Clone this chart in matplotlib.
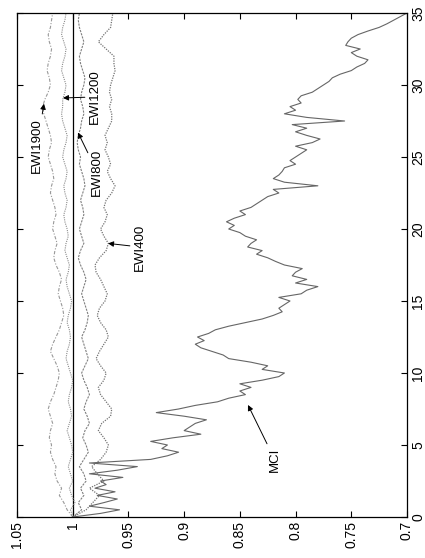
import numpy as np
import matplotlib
matplotlib.use("Agg")
import matplotlib.pyplot as plt

plt.rcParams['font.family'] = ['Liberation Sans', 'DejaVu Sans']

# Datos (tiempo 0..35, valores 0.7..1.05)
mci = [1.0, 0.975, 0.958, 0.985, 0.972, 0.96, 0.978, 0.962, 0.98, 0.97,
       0.975, 0.955, 0.985, 0.96, 0.942, 0.985, 0.93, 0.915, 0.905, 0.92,
       0.915, 0.93, 0.91, 0.885, 0.9, 0.895, 0.89, 0.88, 0.9, 0.925,
       0.905, 0.89, 0.87, 0.86, 0.845, 0.85, 0.84, 0.85, 0.83, 0.815,
       0.81, 0.83, 0.825, 0.84, 0.86, 0.865, 0.875, 0.885, 0.89, 0.882,
       0.888, 0.878, 0.872, 0.86, 0.845, 0.83, 0.82, 0.812, 0.815, 0.81,
       0.805, 0.815, 0.795, 0.79, 0.78, 0.8, 0.79, 0.803, 0.8, 0.794,
       0.81, 0.818, 0.825, 0.835, 0.83, 0.843, 0.84, 0.835, 0.845, 0.85,
       0.86, 0.855, 0.862, 0.855, 0.845, 0.85, 0.84, 0.835, 0.83, 0.825,
       0.815, 0.82, 0.78, 0.81, 0.82, 0.815, 0.812, 0.81, 0.8, 0.805,
       0.8, 0.795, 0.79, 0.8, 0.785, 0.778, 0.79, 0.8, 0.79, 0.803,
       0.756, 0.79, 0.81, 0.8, 0.805, 0.795, 0.798, 0.795, 0.785, 0.78,
       0.775, 0.77, 0.767, 0.76, 0.75, 0.745, 0.738, 0.735, 0.745, 0.75,
       0.742, 0.755, 0.753, 0.75, 0.744, 0.735, 0.725, 0.718, 0.712, 0.706,
       0.70]

ewi400 = [1.0, 0.988, 0.982, 0.976, 0.985, 0.972, 0.978, 0.983, 0.975, 0.97,
          0.968, 0.972, 0.977, 0.974, 0.966, 0.965, 0.97, 0.975, 0.977, 0.972,
          0.97, 0.975, 0.979, 0.976, 0.972, 0.968, 0.97, 0.975, 0.978, 0.976,
          0.971, 0.969, 0.972, 0.975, 0.979, 0.98, 0.976, 0.97, 0.968, 0.972,
          0.975, 0.971, 0.969, 0.972, 0.97, 0.965, 0.962, 0.966, 0.969, 0.966,
          0.968, 0.971, 0.969, 0.971, 0.968, 0.965, 0.965, 0.967, 0.965, 0.967,
          0.966, 0.964, 0.962, 0.963, 0.963, 0.97, 0.977, 0.972, 0.966, 0.965,
          0.964]

ewi800 = [1.0, 0.992, 0.995, 0.99, 0.993, 0.988, 0.99, 0.994, 0.99, 0.986,
          0.988, 0.991, 0.989, 0.985, 0.987, 0.99, 0.988, 0.985, 0.987, 0.99,
          0.992, 0.989, 0.986, 0.988, 0.99, 0.992, 0.989, 0.987, 0.986, 0.988,
          0.99, 0.992, 0.99, 0.988, 0.99, 0.993, 0.995, 0.993, 0.99, 0.992,
          0.994, 0.992, 0.99, 0.991, 0.993, 0.991, 0.989, 0.99, 0.992, 0.994,
          0.993, 0.995, 0.996, 0.995, 0.993, 0.992, 0.99, 0.991, 0.993, 0.992,
          0.99, 0.989, 0.991, 0.993, 0.994, 0.992, 0.99, 0.992, 0.994, 0.995,
          0.994]

ewi1200 = [1.0, 1.002, 0.998, 1.001, 1.003, 1.0, 1.002, 1.004, 1.002, 1.0,
           1.001, 1.003, 1.005, 1.003, 1.001, 1.002, 1.004, 1.003, 1.001, 1.0,
           1.002, 1.004, 1.006, 1.005, 1.003, 1.002, 1.003, 1.005, 1.004, 1.002,
           1.001, 1.003, 1.005, 1.006, 1.004, 1.003, 1.005, 1.007, 1.006, 1.004,
           1.005, 1.007, 1.008, 1.006, 1.005, 1.007, 1.008, 1.006, 1.005, 1.007,
           1.009, 1.008, 1.006, 1.005, 1.007, 1.009, 1.01, 1.009, 1.009, 1.007,
           1.006, 1.008, 1.01, 1.009, 1.007, 1.006, 1.008, 1.01, 1.009, 1.007,
           1.006]

ewi1900 = [1.0, 1.005, 1.008, 1.012, 1.01, 1.014, 1.016, 1.015, 1.018, 1.02,
           1.019, 1.021, 1.02, 1.018, 1.02, 1.022, 1.02, 1.017, 1.015, 1.013,
           1.012, 1.014, 1.017, 1.02, 1.018, 1.015, 1.012, 1.01, 1.008, 1.009,
           1.011, 1.013, 1.012, 1.01, 1.012, 1.015, 1.017, 1.016, 1.014, 1.016,
           1.018, 1.017, 1.015, 1.016, 1.018, 1.02, 1.019, 1.017, 1.018, 1.02,
           1.022, 1.021, 1.019, 1.02, 1.022, 1.024, 1.026, 1.027, 1.025, 1.022,
           1.02, 1.021, 1.023, 1.022, 1.02, 1.019, 1.021, 1.022, 1.02, 1.019,
           1.018]

t_mci = np.linspace(0, 35, len(mci))
t_ewi = np.linspace(0, 35, len(ewi400))

value_ticks = [0.7, 0.75, 0.8, 0.85, 0.9, 0.95, 1.0, 1.05]
value_labels = ['0.7', '0.75', '0.8', '0.85', '0.9', '0.95', '1', '1.05']
time_ticks = [0, 5, 10, 15, 20, 25, 30, 35]

fig = plt.figure(figsize=(4.25, 5.58), dpi=100)
ax = fig.add_axes([17 / 425, 41 / 558, 390 / 425, 504 / 558])

# grafico girado: valores en horizontal, tiempo en vertical
ax.axvline(1.0, color='k', lw=0.9)
ax.plot(ewi1900, t_ewi, color='0.6', lw=0.8, ls=(0, (3, 1.5, 1, 1.5)))
ax.plot(ewi1200, t_ewi, color='0.55', lw=0.8, ls=(0, (1, 1)))
ax.plot(ewi800, t_ewi, color='0.5', lw=0.8, ls=(0, (2, 1)))
ax.plot(ewi400, t_ewi, color='0.45', lw=0.9, ls=(0, (1, 1)))
ax.plot(mci, t_mci, color='0.4', lw=0.8)

ax.set_xlim(1.05, 0.7)
ax.set_ylim(0, 35)
ax.set_xticks(value_ticks)
ax.set_xticklabels(value_labels, rotation=90)
ax.set_yticks(time_ticks)
ax.set_yticklabels([str(v) for v in time_ticks], rotation=90, va='center')
ax.tick_params(axis='both', direction='in', length=4, width=0.8,
               top=True, bottom=True, left=True, right=True,
               labelleft=False, labelright=True, labelsize=10, pad=3)
for s in ax.spines.values():
    s.set_linewidth(0.9)

arrow = dict(arrowstyle='-|>', color='k', lw=0.7, shrinkA=1, shrinkB=0,
             mutation_scale=8)
notes = [('MCI', (0.8427, 7.78), (0.8185, 3.96)),
         ('EWI400', (0.9683, 19.0), (0.9396, 18.75)),
         ('EWI800', (0.9953, 26.7), (0.978, 23.96)),
         ('EWI1200', (1.0087, 29.1), (0.98, 29.17)),
         ('EWI1900', (1.0258, 28.7), (1.032, 25.8))]
for txt, tip, pos in notes:
    ax.annotate(txt, xy=tip, xytext=pos, rotation=90, ha='center',
                va='center', fontsize=9.5, arrowprops=arrow)

fig.savefig('out.png', dpi=100)
